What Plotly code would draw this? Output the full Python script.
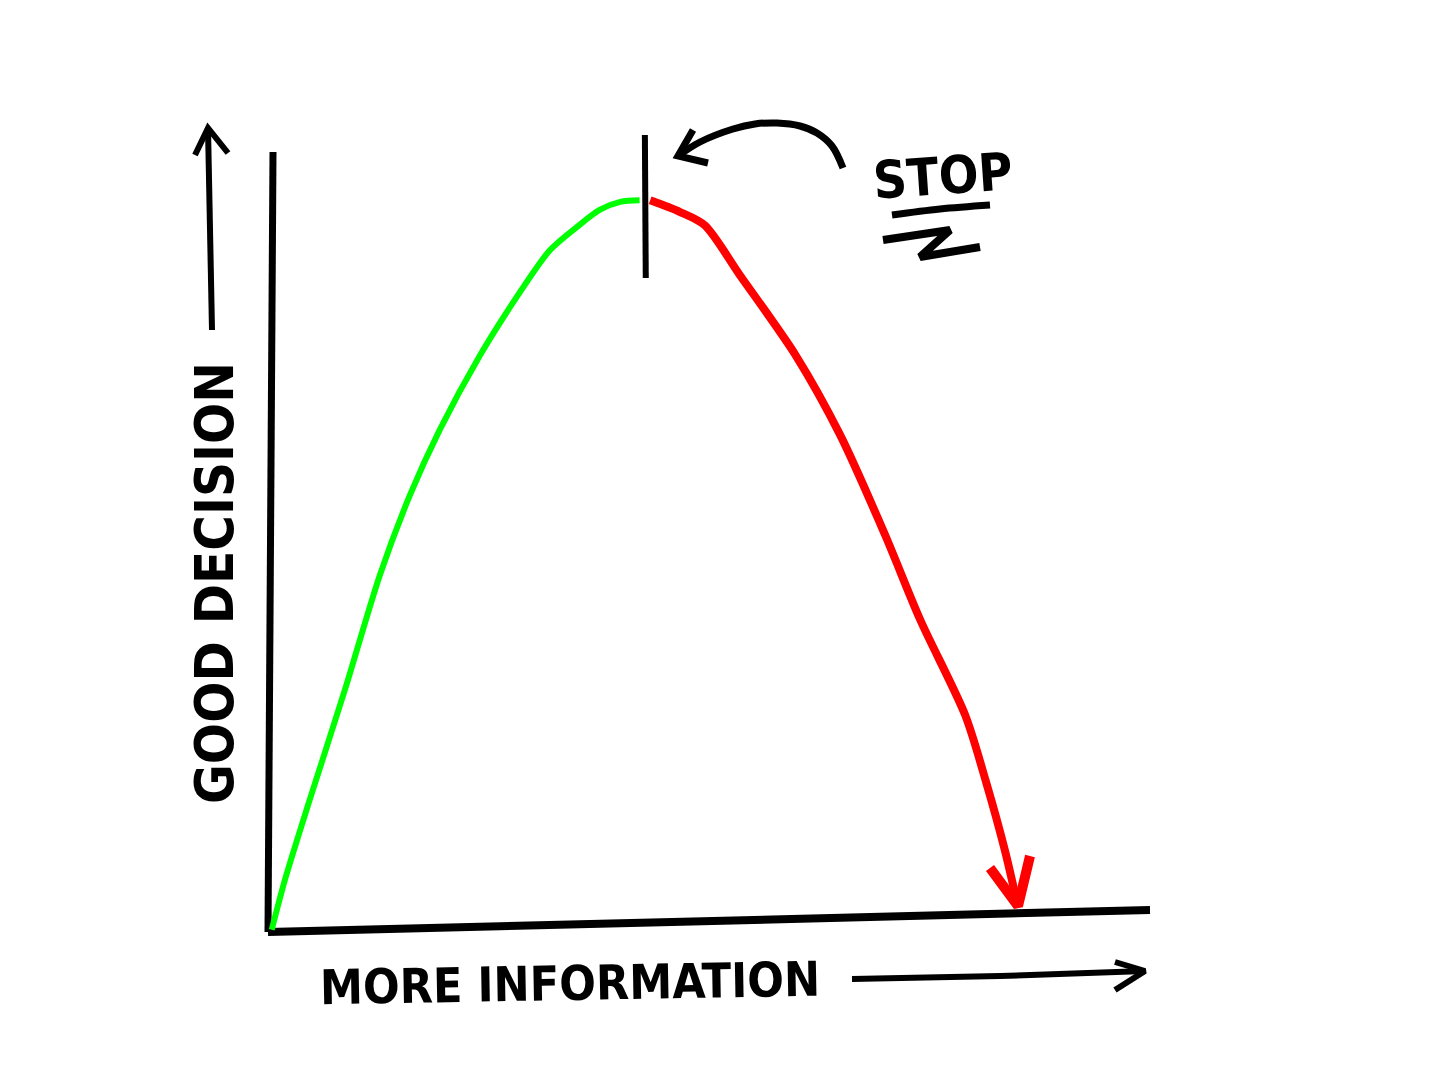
import plotly.graph_objects as go

# ---- data (abstract units: information 0-100, decision quality 0-100) ----
info_good = [0.2, 1.7, 4.5, 8.5, 12.5, 15.9, 19.3, 23.9, 27.8, 31.8, 35.0, 37.5, 39.8, 42.0]
decision_good = [0.3, 6.7, 16.9, 31.0, 45.8, 56.0, 64.4, 74.0, 81.0, 87.4, 90.5, 92.6, 93.6, 93.8]

info_bad = [43.2, 46.6, 49.4, 53.4, 59.7, 64.8, 69.9, 73.9, 79.0, 81.3, 83.5, 85.0]
decision_bad = [93.8, 92.3, 90.6, 84.2, 74.0, 63.7, 50.9, 40.0, 27.8, 19.5, 10.5, 3.2]

stop_x = 42.6
x_label = "MORE INFORMATION"
y_label = "GOOD DECISION"
stop_label = "STOP"

# ---- scale helpers (pixel layout -> data units) ----
PX0, PY0, SX, SY = 270.0, 932.0, 8.8, 7.8
OFF = 8  # page body margin compensation
def dx(px):
    return (px - PX0) / SX
def dy(py):
    return (PY0 - py) / SY

BLACK = "#000000"
fig = go.Figure()

def stroke(xs_px, ys_px, width=7, color=BLACK, shape="linear"):
    fig.add_trace(go.Scatter(
        x=[dx(v) for v in xs_px], y=[dy(v) for v in ys_px], mode="lines",
        line=dict(color=color, width=width, shape=shape),
        hoverinfo="skip", showlegend=False))

# axes
stroke([273, 270, 268], [152, 600, 932], width=7)
stroke([268, 700, 1150], [932, 922, 910], width=8)

# curves
fig.add_trace(go.Scatter(x=info_good, y=decision_good, mode="lines",
                         line=dict(color="#00ff00", width=6, shape="spline", smoothing=0.8),
                         hoverinfo="skip", showlegend=False))
fig.add_trace(go.Scatter(x=info_bad, y=decision_bad, mode="lines",
                         line=dict(color="#ff0000", width=8, shape="spline", smoothing=0.8),
                         hoverinfo="skip", showlegend=False))
# red arrow head
stroke([990, 1018, 1030], [868, 906, 856], width=10, color="#ff0000")

# stop marker line
fig.add_trace(go.Scatter(x=[stop_x, stop_x + 0.1], y=[dy(135), dy(278)], mode="lines",
                         line=dict(color=BLACK, width=6), hoverinfo="skip", showlegend=False))

# curved arrow pointing at stop line
stroke([843, 832, 817, 800, 777, 755, 733, 700, 678],
       [168, 146, 133, 126, 123, 124, 129, 142, 156], width=7, shape="spline")
stroke([693, 678, 708], [130, 156, 163], width=7)

# STOP underline scribble
stroke([892, 940, 990], [215, 209, 205], width=7, shape="spline")
stroke([883, 950, 920, 980], [240, 230, 257, 247], width=8)

# axis arrows
stroke([852, 1000, 1145], [979, 976, 971], width=6)
stroke([1115, 1145, 1115], [962, 971, 990], width=6)
stroke([212, 210, 208], [330, 230, 128], width=6)
stroke([195, 208, 228], [155, 128, 153], width=6)

FONT = "DejaVu Sans Condensed, DejaVu Sans, sans-serif"
fig.add_annotation(x=dx(570), y=dy(983), text="<b>" + x_label + "</b>", showarrow=False,
                   textangle=-1, font=dict(family=FONT, size=48, color=BLACK),
                   xanchor="center", yanchor="middle")
fig.add_annotation(x=dx(214), y=dy(583), text="<b>" + y_label + "</b>", showarrow=False,
                   textangle=-90, font=dict(family=FONT, size=54, color=BLACK),
                   xanchor="center", yanchor="middle")
fig.add_annotation(x=dx(943), y=dy(176), text="<b>" + stop_label + "</b>", showarrow=False,
                   textangle=-4, font=dict(family=FONT, size=52, color=BLACK),
                   xanchor="center", yanchor="middle")

fig.update_layout(
    width=1456, height=1091,
    margin=dict(l=0, r=0, t=0, b=0),
    paper_bgcolor="white", plot_bgcolor="white",
    xaxis=dict(range=[dx(OFF), dx(1456 + OFF)], visible=False, fixedrange=True),
    yaxis=dict(range=[dy(1091 + OFF), dy(OFF)], visible=False, fixedrange=True),
)
fig.write_html("out.html", config={"displayModeBar": False})
